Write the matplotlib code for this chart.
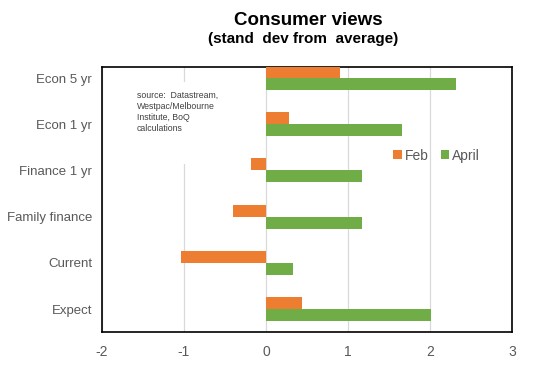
import matplotlib.pyplot as plt
import numpy as np
from matplotlib.patches import Rectangle

plt.rcParams['font.family'] = ['Liberation Sans', 'DejaVu Sans']

# --- data ---
categories = ['Econ 5 yr', 'Econ 1 yr', 'Finance 1 yr', 'Family finance', 'Current', 'Expect']
feb = [0.90, 0.28, -0.18, -0.40, -1.03, 0.44]
april = [2.32, 1.66, 1.17, 1.17, 0.33, 2.01]
xticks = [-2, -1, 0, 1, 2, 3]

orange = '#ed7d31'
green = '#70ad47'
grey = '#595959'

fig = plt.figure(figsize=(5.39, 3.74), dpi=100)
ax = fig.add_axes([0.189, 0.112, 0.761, 0.709])

y = np.arange(len(categories))[::-1]
h = 0.26
ax.barh(y + h / 2, feb, height=h, color=orange, label='Feb', zorder=3)
ax.barh(y - h / 2, april, height=h, color=green, label='April', zorder=3)

ax.set_xlim(-2, 3)
ax.set_ylim(-0.5, 5.24)
ax.set_xticks(xticks)
ax.set_xticklabels([str(t) for t in xticks])
ax.set_yticks(y)
ax.set_yticklabels(categories)
ax.tick_params(axis='both', length=0, colors=grey, labelsize=9.5)
ax.tick_params(axis='x', pad=9, labelsize=10)
ax.tick_params(axis='y', pad=7)
for s in ax.spines.values():
    s.set_color('black')
    s.set_linewidth(1.2)
ax.xaxis.grid(True, color='#d9d9d9', linewidth=0.9, zorder=0)
ax.set_axisbelow(True)

# white box behind source note (hides part of gridline)
ax.add_patch(Rectangle((0.04, 0.635), 0.35, 0.31, transform=ax.transAxes,
                       facecolor='white', edgecolor='none', zorder=1))
ax.text(0.085, 0.91, 'source:  Datastream,\nWestpac/Melbourne\nInstitute, BoQ\ncalculations',
        transform=ax.transAxes, fontsize=6.3, color='#404040', va='top', ha='left',
        linespacing=1.3, zorder=2)

ax.legend(loc='center left', bbox_to_anchor=(0.68, 0.665), ncol=2, frameon=False,
          fontsize=10, labelcolor=grey, handlelength=0.6, handleheight=0.6,
          handletextpad=0.2, columnspacing=0.9)

fig.text(0.572, 0.945, 'Consumer views', ha='center', va='center',
         fontsize=13.5, fontweight='bold', color='black')
fig.text(0.562, 0.895, '(stand  dev from  average)', ha='center', va='center',
         fontsize=11, fontweight='bold', color='black')

fig.savefig('out.png', dpi=100)
